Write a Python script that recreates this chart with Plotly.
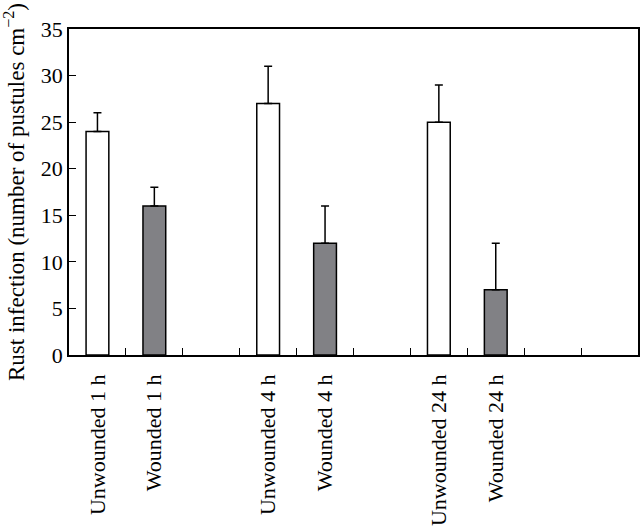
import plotly.graph_objects as go

categories = ["Unwounded 1 h", "Wounded 1 h", " ", "Unwounded 4 h", "Wounded 4 h", "  ",
              "Unwounded 24 h", "Wounded 24 h", "   ", "    "]
unwounded_labels = ["Unwounded 1 h", "Unwounded 4 h", "Unwounded 24 h"]
unwounded_values = [24, 27, 25]
unwounded_err = [2, 4, 4]
wounded_labels = ["Wounded 1 h", "Wounded 4 h", "Wounded 24 h"]
wounded_values = [16, 12, 7]
wounded_err = [2, 4, 5]
y_ticks = [0, 5, 10, 15, 20, 25, 30, 35]

FONT = "Liberation Serif"

def err(arr):
    return dict(type="data", array=arr, arrayminus=[0] * len(arr), symmetric=False,
                color="black", thickness=1.5, width=4)

fig = go.Figure()
fig.add_trace(go.Bar(x=unwounded_labels, y=unwounded_values, width=0.4,
                     marker=dict(color="white", line=dict(color="black", width=1.5)),
                     error_y=err(unwounded_err), showlegend=False))
fig.add_trace(go.Bar(x=wounded_labels, y=wounded_values, width=0.4,
                     marker=dict(color="#818185", line=dict(color="black", width=1.5)),
                     error_y=err(wounded_err), showlegend=False))

fig.update_layout(
    width=640, height=531, autosize=False,
    margin=dict(l=69, r=2, t=29, b=176),
    paper_bgcolor="white", plot_bgcolor="white",
    barmode="overlay",
    font=dict(family=FONT, size=22, color="black"),
    xaxis=dict(type="category", categoryorder="array", categoryarray=categories,
               range=[-0.5, 9.5], tickson="boundaries", ticks="inside", ticklen=7,
               tickwidth=1.2, tickcolor="black", tickangle=-90,
               showline=True, linecolor="black", linewidth=1.5, mirror=True,
               showgrid=False, zeroline=False, ticklabelstandoff=9, automargin=False),
    yaxis=dict(range=[0, 35], tickvals=y_ticks, ticks="inside", ticklen=7,
               tickwidth=1.2, tickcolor="black",
               showline=True, linecolor="black", linewidth=1.5, mirror=True,
               showgrid=False, zeroline=False, automargin=False,
               title=dict(text="Rust infection (number of pustules cm<sup>−2</sup>)",
                          standoff=10, font=dict(size=23))),
)

fig.write_html("out.html", config={"responsive": False, "displayModeBar": False},
               post_script="document.body.style.margin='0';document.body.style.overflow='hidden';")
